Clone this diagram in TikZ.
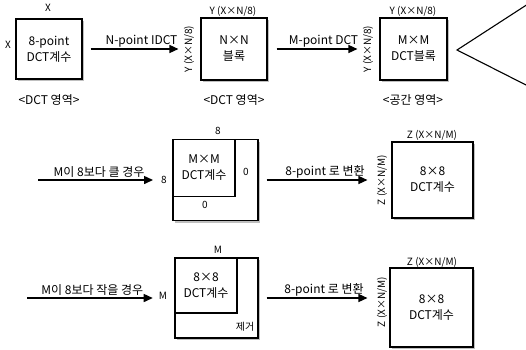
\documentclass[tikz,border=0pt]{standalone}
\usepackage{fontspec}
\setmainfont{Noto Sans CJK KR}
\usetikzlibrary{arrows.meta,shadows,positioning}
\tikzstyle{none}=[inner sep=0mm]
\tikzstyle{txt}=[inner sep=1pt,font=\fontsize{12}{14}\selectfont]
\tikzstyle{sm}=[inner sep=1pt,font=\fontsize{10}{11}\selectfont]
\tikzstyle{box}=[draw=black,line width=1.1pt,fill=white,inner sep=0pt,align=center,font=\fontsize{12}{16}\selectfont,drop shadow={shadow xshift=2pt,shadow yshift=-2pt,fill=gray!50,opacity=1}]
\tikzstyle{inbox}=[draw=black,line width=1.1pt,inner sep=0pt,align=center,font=\fontsize{12}{16}\selectfont]
\tikzstyle{flow}=[line width=1.4pt,-{Triangle[length=9pt,width=8pt]}]
\tikzstyle{tag}=[txt,above,inner sep=1.5pt]

\begin{document}
\begin{tikzpicture}[x=1pt,y=-1pt]
	\useasboundingbox (0,0) rectangle (526,349);
	% top row
	\node [style=box, minimum width=66pt, minimum height=60pt] (coef) at (49, 49) {8-point\\DCT계수};
	\node [style=sm] (xtop) at (48, 8) {X};
	\node [style=sm] (xleft) at (8, 45) {X};
	\node [style=txt] (dom1) at (49, 100) {<DCT 영역>};
	\node [style=box, minimum width=66pt, minimum height=62pt] (nblk) at (234, 49) {N×N\\블록};
	\node [style=sm] (ytop2) at (233, 11) {Y (X×N/8)};
	\node [style=sm, rotate=90] (yleft2) at (189, 49) {Y (X×N/8)};
	\node [style=txt] (dom2) at (234, 100) {<DCT 영역>};
	\node [style=box, minimum width=67pt, minimum height=62pt] (mblk) at (413.5, 49) {M×M\\DCT블록};
	\node [style=sm] (ytop3) at (413, 11) {Y (X×N/8)};
	\node [style=sm, rotate=90] (yleft3) at (368, 49) {Y (X×N/8)};
	\node [style=txt] (dom3) at (413, 100) {<공간 영역>};
	% M > 8
	\node [style=box, minimum width=85pt, minimum height=81pt] (pad8) at (215.5, 180) {};
	\node [style=inbox, minimum width=62pt, minimum height=57pt] (pin) at (204, 168) {M×M\\DCT계수};
	\node [style=sm] (ptop) at (218, 131) {8};
	\node [style=sm] (pleft) at (164, 180) {8};
	\node [style=sm] (pzr) at (246, 172) {0};
	\node [style=sm] (pzb) at (205, 205) {0};
	\node [style=box, minimum width=81pt, minimum height=76pt] (zc1) at (432.5, 180) {8×8\\DCT계수};
	\node [style=sm] (ztop1) at (432, 135) {Z (X×N/M)};
	\node [style=sm, rotate=90] (zleft1) at (382, 180) {Z (X×N/M)};
	% M < 8
	\node [style=box, minimum width=83pt, minimum height=80pt] (cut8) at (216.5, 298) {};
	\node [style=inbox, minimum width=62pt, minimum height=55pt] (cin) at (206, 285.5) {8×8\\DCT계수};
	\node [style=sm] (ctop) at (218, 250) {M};
	\node [style=sm] (cleft) at (163, 296) {M};
	\node [style=sm] (cdrop) at (245, 327) {제거};
	\node [style=box, minimum width=83pt, minimum height=79pt] (zc2) at (431.5, 307.5) {8×8\\DCT계수};
	\node [style=sm] (ztop2) at (432, 262) {Z (X×N/M)};
	\node [style=sm, rotate=90] (zleft2) at (382, 302) {Z (X×N/M)};
	\coordinate (big) at (38, 180);
	\coordinate (small) at (27, 298);
	% arrows
	\draw [style=flow, shorten <=8pt, shorten >=22pt] (coef) to node [style=tag] (t1) {N-point IDCT} (nblk);
	\draw [style=flow, shorten <=9pt, shorten >=22pt] (nblk) to node [style=tag] (t2) {M-point DCT} (mblk);
	\draw [style=flow, shorten >=7pt] (big) to node [style=tag] (t3) {M이 8보다 클 경우} (big -| pleft.west);
	\draw [style=flow, shorten <=8pt, shorten >=24pt] (pad8) to node [style=tag] (t4) {8-point 로 변환} (zc1);
	\draw [style=flow, shorten >=5pt] (small) to node [style=tag] (t5) {M이 8보다 작을 경우} (small -| cleft.west);
	\draw [style=flow, shorten <=8pt, shorten >=22pt] (cut8.east) to node [style=tag] (t6) {8-point 로 변환} (cut8.east -| zc2.west);
	% open wedge at the right
	\draw [line width=1.1pt] (528, 4) -- (457, 50) -- (528, 86);
\end{tikzpicture}
\end{document}
